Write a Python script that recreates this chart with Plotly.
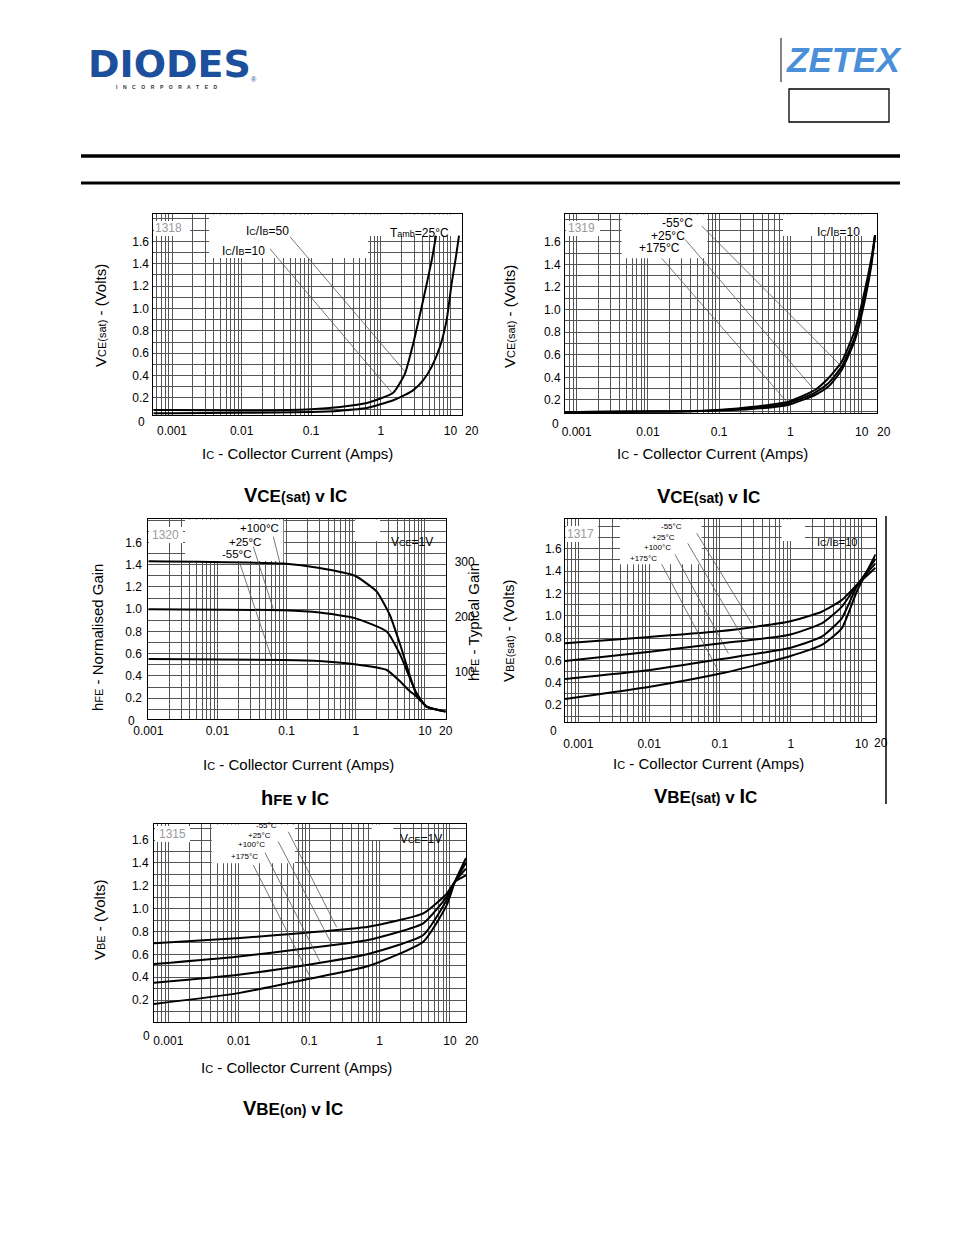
import math
import plotly.graph_objects as go

W, H = 954, 1235          # browser window
OX, OY = 8, 8             # default page margin around the plot div
FW, FH = 930, 1212        # figure size (kept inside the window: no scrollbars)
FONT = "Liberation Sans, Arial, sans-serif"

# ---------------- data ----------------
# 1318: VCE(sat) v IC, Tamb = 25C
c1_ic_50 = [0.00054, 0.001, 0.01, 0.1, 0.26, 0.63, 1.51, 2.23, 2.93, 4.08, 5.39, 6.21]
c1_v_50 = [0.093, 0.092, 0.088, 0.10, 0.12, 0.155, 0.247, 0.42, 0.69, 1.08, 1.43, 1.65]
c1_ic_10 = [0.00054, 0.001, 0.01, 0.1, 0.26, 0.63, 1.51, 2.23, 2.93, 4.08, 5.39, 7.09, 8.85, 10.4, 12.0, 13.3]
c1_v_10 = [0.063, 0.064, 0.068, 0.075, 0.087, 0.11, 0.18, 0.227, 0.27, 0.36, 0.48, 0.66, 0.90, 1.22, 1.46, 1.65]

# 1319: VCE(sat) v IC, IC/IB = 10
c2_ic = [0.00069, 0.001, 0.01, 0.07, 0.256, 0.93, 2.21, 3.40, 5.24, 8.05, 11.1, 13.8, 15.4]
c2_v_m55 = [0.094, 0.094, 0.097, 0.105, 0.135, 0.185, 0.288, 0.392, 0.539, 0.819, 1.173, 1.467, 1.659]
c2_v_p25 = [0.094, 0.094, 0.097, 0.105, 0.127, 0.171, 0.265, 0.348, 0.495, 0.760, 1.114, 1.438, 1.659]
c2_v_p175 = [0.094, 0.094, 0.097, 0.105, 0.118, 0.156, 0.244, 0.318, 0.465, 0.731, 1.084, 1.409, 1.659]

# 1320: hFE v IC, VCE = 1V
c3_ic_p100 = [0.001, 0.09, 0.3, 0.97, 2.0, 3.1, 4.4, 5.8, 7.6, 10.6, 20]
c3_g_p100 = [1.43, 1.41, 1.37, 1.30, 1.16, 0.95, 0.68, 0.44, 0.23, 0.125, 0.08]
c3_ic = [0.001, 0.09, 0.3, 0.97, 2.8, 4.4, 5.8, 7.6, 10.6, 20]
c3_g_p25 = [1.00, 0.99, 0.97, 0.92, 0.80, 0.59, 0.41, 0.245, 0.125, 0.08]
c3_g_m55 = [0.553, 0.544, 0.535, 0.505, 0.454, 0.35, 0.275, 0.214, 0.125, 0.08]
c3_typ_ticks = [100, 200, 300]

# 1317: VBE(sat) v IC, IC/IB = 10
c4_ic = [0.00065, 0.0103, 0.106, 0.925, 2.74, 5.25, 8.55, 15.8]
c4_v_m55 = [0.753, 0.81, 0.863, 0.946, 1.036, 1.14, 1.275, 1.43]
c4_v_p25 = [0.594, 0.678, 0.753, 0.827, 0.932, 1.08, 1.275, 1.47]
c4_v_p100 = [0.433, 0.514, 0.612, 0.708, 0.812, 0.977, 1.26, 1.51]
c4_v_p175 = [0.254, 0.364, 0.484, 0.633, 0.738, 0.887, 1.215, 1.55]

# 1315: VBE(on) v IC, VCE = 1V
c5_ic = [0.000626, 0.00938, 0.0925, 0.693, 4.19, 9.02, 11.8, 16.9]
c5_v_m55 = [0.696, 0.74, 0.789, 0.841, 0.958, 1.13, 1.235, 1.29]
c5_v_p25 = [0.515, 0.579, 0.652, 0.725, 0.871, 1.104, 1.235, 1.35]
c5_v_p100 = [0.351, 0.419, 0.506, 0.602, 0.769, 1.075, 1.235, 1.40]
c5_v_p175 = [0.165, 0.258, 0.381, 0.497, 0.71, 1.03, 1.235, 1.44]

# leader lines from curve labels to curves: ((IC0, V0), (IC1, V1))
c1_leaders = [((0.0496, 1.641), (2.23, 0.435)), ((0.0256, 1.532), (1.44, 0.247))]
c2_leaders = [((0.0568, 1.739), (4.97, 0.51)), ((0.0331, 1.621), (2.21, 0.282)),
              ((0.0156, 1.453), (0.885, 0.185))]
c3_leaders = [((0.0643, 1.651), (0.0803, 1.412)), ((0.033, 1.561), (0.0643, 1.0)),
              ((0.0207, 1.426), (0.0609, 0.559))]
c4_leaders = [((0.047, 1.739), (0.281, 0.932)), ((0.0351, 1.649), (0.214, 0.798)),
              ((0.0232, 1.550), (0.1315, 0.663)), ((0.01507, 1.461), (0.0931, 0.514))]
c5_leaders = [((0.0507, 1.672), (0.2466, 0.836)), ((0.0365, 1.585), (0.2094, 0.69)),
              ((0.02366, 1.489), (0.1428, 0.535)), ((0.0161, 1.381), (0.1089, 0.375))]

x_tick_labels = {0.001: "0.001", 0.01: "0.01", 0.1: "0.1", 1.0: "1", 10.0: "10", 20.0: "20"}
y_tick_labels = [0.2, 0.4, 0.6, 0.8, 1.0, 1.2, 1.4, 1.6]

# ---------------- layout geometry (page pixels) ----------------
charts = [
    dict(L=153.3, R=462.3, T=214, B=415, xr=[-3.269, 1.171], yr=[0.048, 1.844], xs=5, ys=1),
    dict(L=565, R=877.3, T=214, B=413.3, xr=[-3.164, 1.219], yr=[0.082, 1.845], xs=7, ys=1),
    dict(L=148.3, R=445.7, T=519, B=719.3, xr=[-3.0, 1.3011], yr=[0.011, 1.81], xs=0, ys=3),
    dict(L=565, R=875.7, T=519, B=722.3, xr=[-3.188, 1.2], yr=[0.045, 1.867], xs=10, ys=0),
    dict(L=154, R=466, T=824, B=1022.3, xr=[-3.203, 1.229], yr=[0.005, 1.74], xs=7, ys=2),
]


def fx(px):
    return (px - OX) / FW


def fy(py):
    return 1 - (py - OY) / FH


fig = go.Figure()

CURVE = dict(color="black", width=2, shape="spline", smoothing=0.5)
LEADER = dict(color="#555555", width=0.8)
TICKFONT = dict(family=FONT, size=12, color="black")


def axn(i):
    return "" if i == 1 else str(i)


def add_curve(i, xs, ys):
    fig.add_trace(go.Scatter(x=xs, y=ys, mode="lines", line=CURVE, xaxis="x" + axn(i),
                             yaxis="y" + axn(i), hoverinfo="skip", showlegend=False))


def add_leaders(i, leaders):
    for (a, b) in leaders:
        fig.add_trace(go.Scatter(x=[a[0], b[0]], y=[a[1], b[1]], mode="lines", line=LEADER,
                                 xaxis="x" + axn(i), yaxis="y" + axn(i), hoverinfo="skip",
                                 showlegend=False))


add_curve(1, c1_ic_50, c1_v_50)
add_curve(1, c1_ic_10, c1_v_10)
add_leaders(1, c1_leaders)

add_curve(2, c2_ic, c2_v_m55)
add_curve(2, c2_ic, c2_v_p25)
add_curve(2, c2_ic, c2_v_p175)
add_leaders(2, c2_leaders)

add_curve(3, c3_ic_p100, c3_g_p100)
add_curve(3, c3_ic, c3_g_p25)
add_curve(3, c3_ic, c3_g_m55)
add_leaders(3, c3_leaders)
# invisible trace to carry the right-hand "Typical Gain" axis
fig.add_trace(go.Scatter(x=[0.001], y=[100], mode="lines", xaxis="x3", yaxis="y6",
                         hoverinfo="skip", showlegend=False, line=dict(width=0)))

add_curve(4, c4_ic, c4_v_m55)
add_curve(4, c4_ic, c4_v_p25)
add_curve(4, c4_ic, c4_v_p100)
add_curve(4, c4_ic, c4_v_p175)
add_leaders(4, c4_leaders)

add_curve(5, c5_ic, c5_v_m55)
add_curve(5, c5_ic, c5_v_p25)
add_curve(5, c5_ic, c5_v_p100)
add_curve(5, c5_ic, c5_v_p175)
add_leaders(5, c5_leaders)

GRID = "#555555"
layout = {}
for i, c in enumerate(charts, start=1):
    xv, xt = [], []
    for k in range(-4, 2):
        for m in range(1, 10):
            v = round(m * 10 ** k, 6)
            lv = math.log10(v)
            if c["xr"][0] - 1e-9 <= lv <= c["xr"][1] + 1e-9:
                xv.append(v)
                xt.append(x_tick_labels.get(v, ""))
    yv, yt = [], []
    for k in range(1, 19):
        v = round(0.1 * k, 1)
        if c["yr"][0] <= v <= c["yr"][1]:
            yv.append(v)
            yt.append(f"{v:.1f}" if v in y_tick_labels else "")
    layout["xaxis" + axn(i)] = dict(
        type="log", range=c["xr"], domain=[fx(c["L"]), fx(c["R"])], anchor="y" + axn(i),
        tickmode="array", tickvals=xv, ticktext=xt, ticks="", showgrid=True, gridcolor=GRID,
        gridwidth=0.6, showline=True, linecolor="black", linewidth=1, mirror=True,
        zeroline=False, tickfont=TICKFONT, ticklabelstandoff=c["xs"], fixedrange=True,
        automargin=False)
    layout["yaxis" + axn(i)] = dict(
        range=c["yr"], domain=[fy(c["B"]), fy(c["T"])], anchor="x" + axn(i),
        tickmode="array", tickvals=yv, ticktext=yt, ticks="", showgrid=True, gridcolor=GRID,
        gridwidth=0.6, showline=True, linecolor="black", linewidth=1, mirror=True,
        zeroline=False, tickfont=TICKFONT, ticklabelstandoff=c["ys"], fixedrange=True,
        automargin=False)

layout["yaxis6"] = dict(
    overlaying="y3", side="right", anchor="x3", range=[13.5, 377.6], tickmode="array",
    tickvals=c3_typ_ticks, ticktext=[str(v) for v in c3_typ_ticks], ticks="", showgrid=False,
    showline=False, zeroline=False, tickfont=TICKFONT, ticklabelstandoff=8, fixedrange=True,
    automargin=False)

fig.update_layout(**layout)

# ---------------- text ----------------
ann = []


def txt(px, py, s, size=12, color="black", angle=0, xanchor="center", family=FONT):
    ann.append(dict(x=fx(px), y=fy(py), xref="paper", yref="paper", text=s, showarrow=False,
                    font=dict(family=family, size=size, color=color), textangle=angle,
                    xanchor=xanchor, yanchor="middle"))


def sm(s, size=9):
    return f"<span style='font-size:{size}px'>{s}</span>"


IC_TITLE = "I" + sm("C", 11) + " - Collector Current (Amps)"
ICIB = "I" + sm("C", 9) + "/I" + sm("B", 9)


def title(main, sub="", paren=""):
    s = "<b>" + main[0] + sm(main[1:], 17)
    if paren:
        s += sm(paren, 14)
    s += sm(" v ", 17) + "I" + sm("C", 17) + "</b>"
    return s


GRAY = "#9a9a9a"

# chart 1
txt(168, 228, "1318", 12, GRAY)
txt(267, 231, ICIB + "=50", 12)
txt(243, 251, ICIB + "=10", 12)
txt(419, 233, "T" + sm("amb", 9) + "=25°C", 12)
txt(141, 422, "0", 12)
txt(472, 431, "20", 12)
txt(297, 453, IC_TITLE, 15)
txt(100, 316, "V" + sm("CE(sat)", 11) + " - (Volts)", 15, angle=-90)
txt(295, 495, title("VCE", paren="(sat)"), 20)

# chart 2
txt(581, 228, "1319", 12, GRAY)
txt(677, 223, "-55°C", 12)
txt(668, 236, "+25°C", 12)
txt(659, 248, "+175°C", 12)
txt(838, 232, ICIB + "=10", 12)
txt(555, 424, "0", 12)
txt(884, 432, "20", 12)
txt(712, 453, IC_TITLE, 15)
txt(509, 317, "V" + sm("CE(sat)", 11) + " - (Volts)", 15, angle=-90)
txt(708, 496, title("VCE", paren="(sat)"), 20)

# chart 3
txt(165, 535, "1320", 12, GRAY)
txt(259, 528, "+100°C", 11.5)
txt(245, 542, "+25°C", 11.5)
txt(237, 554, "-55°C", 11.5)
txt(412, 542, "V" + sm("CE", 9) + "=1V", 12)
txt(131, 721, "0", 12)
txt(298, 764, IC_TITLE, 15)
txt(97, 638, "h" + sm("FE", 11) + " - Normalised Gain", 15, angle=-90)
txt(473, 622, "h" + sm("FE", 11) + " - Typical Gain", 15, angle=-90)
txt(295, 798, "<b>h" + sm("FE", 15) + sm(" v ", 17) + "I" + sm("C", 17) + "</b>", 20)

# chart 4
txt(580, 534, "1317", 12, GRAY)
txt(671, 527, "-55°C", 8)
txt(663, 537, "+25°C", 8)
txt(657, 548, "+100°C", 8)
txt(643, 558, "+175°C", 8)
txt(837, 542, ICIB + "=10", 11)
txt(553, 731, "0", 12)
txt(881, 743, "20", 12)
txt(708, 763, IC_TITLE, 15)
txt(508, 630, "V" + sm("BE(sat)", 11) + " - (Volts)", 15, angle=-90)
txt(705, 796, title("VBE", paren="(sat)"), 20)

# chart 5
txt(172, 834, "1315", 12, GRAY)
txt(266, 825, "-55°C", 8)
txt(259, 835, "+25°C", 8)
txt(251, 845, "+100°C", 8)
txt(244, 856, "+175°C", 8)
txt(421, 839, "V" + sm("CE", 9) + "=1V", 12)
txt(146, 1036, "0", 12)
txt(472, 1041, "20", 12)
txt(296, 1067, IC_TITLE, 15)
txt(99, 920, "V" + sm("BE", 11) + " - (Volts)", 15, angle=-90)
txt(293, 1108, title("VBE", paren="(on)"), 20)

# header logos
txt(169, 64, "<b>DIODES</b>", 38, "#1c4f9c", family="DejaVu Sans, sans-serif")
txt(254, 79, "®", 7, "#1c4f9c")
txt(167, 87, "<b>I    N    C    O    R    P    O    R    A    T    E    D</b>", 5, "#333333")
txt(844, 60, "<b><i>ZETEX</i></b>", 35, "#4a8fd8",
    family="Liberation Sans Narrow, Liberation Sans, sans-serif")

# ---------------- shapes ----------------
shapes = []


def pline(x0, y0, x1, y1, w=1.0, color="black"):
    shapes.append(dict(type="line", xref="paper", yref="paper", x0=fx(x0), y0=fy(y0),
                       x1=fx(x1), y1=fy(y1), line=dict(color=color, width=w)))


pline(81, 156, 900, 156, 3.5)
pline(81, 183, 900, 183, 3)
pline(781, 38, 781, 82, 1.2, "#333333")
shapes.append(dict(type="rect", xref="paper", yref="paper", x0=fx(789), y0=fy(122), x1=fx(889),
                   y1=fy(89), line=dict(color="black", width=1.3)))
pline(886, 516, 886, 804, 1.5)


def blank(i, x0, x1, y0, y1):
    # white patch over the grid (label area) of chart i, given in page pixels
    c = charts[i - 1]

    def dx(px):
        return 10 ** (c["xr"][0] + (px - c["L"]) / (c["R"] - c["L"]) * (c["xr"][1] - c["xr"][0]))

    def dy(py):
        return c["yr"][0] + (c["B"] - py) / (c["B"] - c["T"]) * (c["yr"][1] - c["yr"][0])

    shapes.append(dict(type="rect", xref="x" + axn(i), yref="y" + axn(i),
                       x0=dx(x0), x1=dx(x1), y0=dy(y1), y1=dy(y0),
                       fillcolor="white", line=dict(width=0), layer="between"))


blank(1, 209, 368, 214.5, 258)
blank(1, 368, 462, 214.5, 236)
blank(1, 154, 190, 221, 236)
blank(2, 621.7, 707.3, 214.5, 258.3)
blank(2, 783, 877, 214.5, 236)
blank(2, 566, 600, 221, 236)
blank(3, 185, 283.3, 519.5, 561)
blank(3, 355, 380, 519.5, 541)
blank(3, 149, 183, 527, 543)
blank(4, 620, 701.7, 519.5, 564.3)
blank(4, 781.7, 805, 519.5, 541)
blank(4, 566, 598, 526, 542)
blank(5, 211.7, 295, 824.5, 863.3)
blank(5, 371.7, 393.3, 824.5, 840)
blank(5, 155, 190, 826, 842)

fig.update_layout(width=FW, height=FH,
                  margin=dict(l=0, r=0, t=0, b=0, pad=0, autoexpand=False),
                  paper_bgcolor="white", plot_bgcolor="white", showlegend=False,
                  annotations=ann, shapes=shapes, font=dict(family=FONT))

fig.write_html("out.html")
